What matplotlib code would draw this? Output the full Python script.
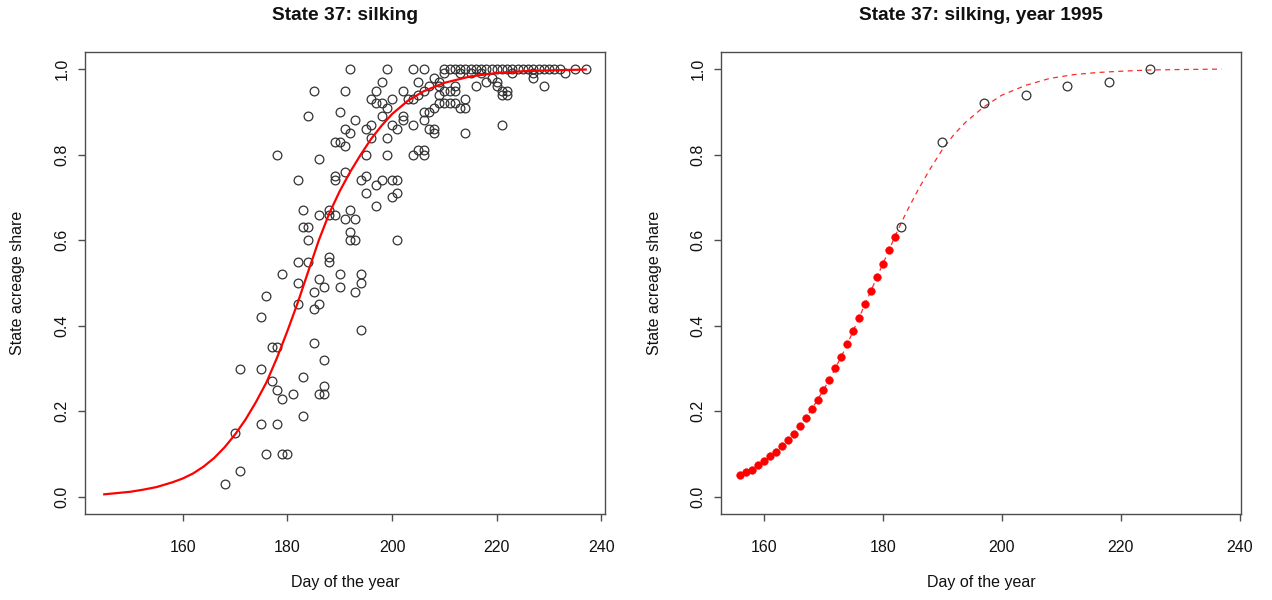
import numpy as np
import matplotlib
matplotlib.use("Agg")
import matplotlib.pyplot as plt

plt.rcParams['font.family'] = ['Liberation Sans', 'DejaVu Sans']

# ---- left panel: all years, observed shares and fitted curve ----
scatter_day = [
    168, 170, 171, 171,
    175, 175, 175, 176, 176, 177, 177,
    178, 178, 178, 178, 179, 179, 179, 180, 181,
    182, 182, 182, 182, 183, 183, 183, 183,
    184, 184, 184, 184, 185, 185, 185, 185,
    186, 186, 186, 186, 186, 187, 187, 187, 187,
    188, 188, 188, 188, 189, 189, 189, 189,
    190, 190, 190, 190, 191, 191, 191, 191, 191,
    192, 192, 192, 192, 192, 193, 193, 193, 193,
    194, 194, 194, 194, 195, 195, 195, 195,
    196, 196, 196, 197, 197, 197, 197,
    198, 198, 198, 198, 199, 199, 199, 199,
    200, 200, 200, 200, 201, 201, 201, 201,
    202, 202, 202, 203, 204, 204, 204, 204,
    205, 205, 205, 206, 206, 206, 206, 206, 206,
    207, 207, 207, 208, 208, 208, 208,
    209, 209, 209, 209, 210, 210, 210, 210,
    211, 211, 211, 212, 212, 212, 212,
    213, 213, 213, 214, 214, 214, 214,
    215, 215, 216, 216, 217, 217, 218, 218, 219, 219,
    220, 220, 220, 221, 221, 221, 221, 222, 222, 222,
    223, 223, 224, 225, 226, 227, 227, 227, 228, 229, 229,
    230, 231, 232, 233, 235, 237,
]
scatter_share = [
    0.03, 0.15, 0.30, 0.06,
    0.42, 0.30, 0.17, 0.47, 0.10, 0.35, 0.27,
    0.80, 0.35, 0.25, 0.17, 0.52, 0.23, 0.10, 0.10, 0.24,
    0.74, 0.55, 0.50, 0.45, 0.67, 0.63, 0.28, 0.19,
    0.89, 0.63, 0.60, 0.55, 0.95, 0.48, 0.44, 0.36,
    0.79, 0.66, 0.51, 0.45, 0.24, 0.49, 0.32, 0.26, 0.24,
    0.67, 0.66, 0.56, 0.55, 0.83, 0.75, 0.74, 0.66,
    0.90, 0.83, 0.52, 0.49, 0.95, 0.86, 0.82, 0.76, 0.65,
    1.00, 0.85, 0.67, 0.62, 0.60, 0.88, 0.65, 0.60, 0.48,
    0.74, 0.52, 0.50, 0.39, 0.86, 0.80, 0.75, 0.71,
    0.93, 0.87, 0.84, 0.95, 0.92, 0.73, 0.68,
    0.97, 0.92, 0.89, 0.74, 1.00, 0.91, 0.84, 0.80,
    0.93, 0.87, 0.74, 0.70, 0.86, 0.74, 0.71, 0.60,
    0.95, 0.89, 0.88, 0.93, 1.00, 0.93, 0.87, 0.80,
    0.97, 0.94, 0.81, 1.00, 0.95, 0.90, 0.88, 0.81, 0.80,
    0.96, 0.90, 0.86, 0.98, 0.91, 0.86, 0.85,
    0.97, 0.96, 0.94, 0.92, 1.00, 0.99, 0.95, 0.92,
    1.00, 0.95, 0.92, 1.00, 0.96, 0.95, 0.92,
    1.00, 0.99, 0.91, 1.00, 0.93, 0.91, 0.85,
    1.00, 0.99, 1.00, 0.96, 1.00, 0.99, 1.00, 0.97, 1.00, 0.98,
    1.00, 0.97, 0.96, 1.00, 0.95, 0.94, 0.87, 1.00, 0.95, 0.94,
    1.00, 0.99, 1.00, 1.00, 1.00, 1.00, 0.99, 0.98, 1.00, 1.00, 0.96,
    1.00, 1.00, 1.00, 0.99, 1.00, 1.00,
]
assert len(scatter_day) == len(scatter_share)

fit_day = [145, 147.5, 150, 152.5, 155, 158, 160, 162, 164, 166, 168, 170,
           172, 174, 176, 178, 180, 182, 184, 186, 188, 190, 192, 194, 196,
           198, 200, 203, 206, 210, 215, 220, 225, 230, 237]
fit_share = [0.006, 0.009, 0.012, 0.017, 0.023, 0.034, 0.043, 0.055, 0.071,
             0.091, 0.116, 0.146, 0.181, 0.222, 0.268, 0.325, 0.388, 0.455,
             0.528, 0.600, 0.663, 0.715, 0.760, 0.800, 0.837, 0.868, 0.895,
             0.926, 0.948, 0.968, 0.983, 0.991, 0.995, 0.997, 0.999]

# ---- right panel: year 1995 ----
obs_day_1995 = [183, 190, 197, 204, 211, 218, 225]
obs_share_1995 = [0.63, 0.83, 0.92, 0.94, 0.96, 0.97, 1.00]

pred_day_1995 = list(range(156, 183))
pred_share_1995 = [0.052, 0.058, 0.064, 0.075, 0.083, 0.095, 0.105, 0.118,
                   0.134, 0.148, 0.166, 0.184, 0.205, 0.227, 0.250, 0.274,
                   0.301, 0.328, 0.357, 0.388, 0.419, 0.451, 0.482, 0.514,
                   0.545, 0.576, 0.608]

curve_day_1995 = [183, 184, 186, 188, 190, 192, 194, 197, 200, 204, 208,
                  212, 216, 220, 225, 230, 237]
curve_share_1995 = [0.638, 0.667, 0.720, 0.768, 0.812, 0.848, 0.877, 0.912,
                    0.939, 0.962, 0.978, 0.987, 0.992, 0.995, 0.998, 0.999,
                    1.000]

xticks = [160, 180, 200, 220, 240]
yticks = [0.0, 0.2, 0.4, 0.6, 0.8, 1.0]

W, H = 1272, 600
fig = plt.figure(figsize=(W / 100, H / 100), dpi=100)
frame_col = '#4d4d4d'
pt_col = '#333333'


def style_axes(ax, xlim):
    ax.set_xlim(*xlim)
    ax.set_ylim(-0.04, 1.04)
    ax.set_xticks(xticks)
    ax.set_yticks(yticks)
    ax.set_yticklabels([f"{v:.1f}" for v in yticks])
    for sp in ax.spines.values():
        sp.set_color(frame_col)
        sp.set_linewidth(1.0)
    ax.tick_params(direction='out', length=5, width=1.0, color=frame_col,
                   labelsize=11.5, labelcolor='#111111')
    ax.tick_params(axis='x', pad=14)
    ax.tick_params(axis='y', pad=6)
    for lab in ax.get_yticklabels():
        lab.set_rotation(90)
        lab.set_va('center')


def px_axes(left, right, top, bottom):
    return fig.add_axes([left / W, 1 - bottom / H, (right - left) / W, (bottom - top) / H])


# left panel
ax1 = px_axes(85, 605, 52, 514)
ax1.plot(scatter_day, scatter_share, linestyle='none', marker='o', ms=6.3,
         mfc='none', mec=pt_col, mew=0.9, zorder=2)
ax1.plot(fit_day, fit_share, color='red', lw=1.6, zorder=3)
style_axes(ax1, (141.32, 240.68))

# right panel
ax2 = px_axes(721, 1241, 52, 514)
ax2.plot(pred_day_1995 + curve_day_1995, pred_share_1995 + curve_share_1995,
         color='#ff2a2a', lw=0.9, dashes=(4, 3.5), zorder=2)
ax2.plot(pred_day_1995, pred_share_1995, linestyle='none', marker='o', ms=5.6,
         mfc='red', mec='red', mew=0.3, zorder=3)
ax2.plot(obs_day_1995, obs_share_1995, linestyle='none', marker='o', ms=6.3,
         mfc='none', mec=pt_col, mew=0.9, zorder=3)
style_axes(ax2, (152.76, 240.24))

# titles and axis labels
for cx, title in [(345, "State 37: silking"), (981, "State 37: silking, year 1995")]:
    fig.text(cx / W, 1 - 15 / H, title, ha='center', va='center',
             fontsize=13.8, fontweight='bold', color='#111111')
    fig.text(cx / W, 1 - 583 / H, "Day of the year", ha='center', va='center',
             fontsize=11.5, color='#111111')
for lx in [18, 654]:
    fig.text(lx / W, 1 - 283 / H, "State acreage share", ha='center', va='center',
             rotation=90, fontsize=11.5, color='#111111')

fig.savefig("out.png", dpi=100)
